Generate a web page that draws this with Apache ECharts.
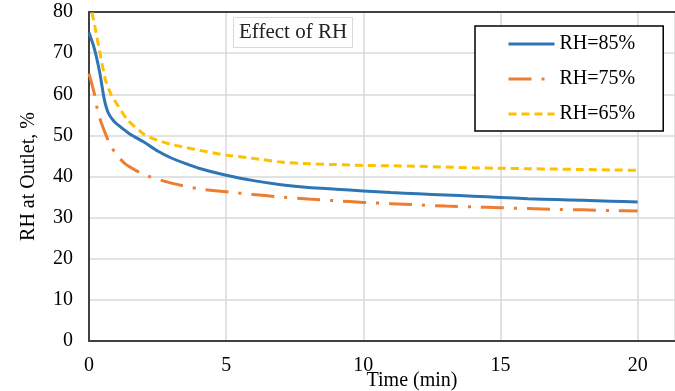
<!DOCTYPE html>
<html>
<head>
<meta charset="utf-8">
<script src="https://cdn.jsdelivr.net/npm/echarts@6/dist/echarts.min.js"></script>
<style>
  html, body { margin: 0; padding: 0; background: #fff; }
  #chart { width: 675px; height: 391px; }
</style>
</head>
<body>
<div id="chart"></div>
<script>
// Outlet relative humidity over time for three inlet RH levels
const seriesNames = ['RH=85%', 'RH=75%', 'RH=65%'];

const timeRH85 = [0, 0.2, 0.4, 0.55, 0.7, 0.9, 1.1, 1.5, 2, 2.5, 3, 3.5, 4, 5, 6, 7, 8, 9, 10, 11, 12, 13, 14, 15, 16, 17, 18, 19, 20];
const valRH85  = [75, 71, 65, 59, 55.5, 53.5, 52.3, 50.3, 48.4, 46.2, 44.5, 43.2, 42, 40.3, 39, 38, 37.3, 36.9, 36.5, 36.1, 35.8, 35.5, 35.2, 34.9, 34.6, 34.4, 34.2, 34.0, 33.8];

const timeRH75 = [0, 0.2, 0.3, 0.45, 0.75, 1, 1.3, 1.7, 2.1, 3, 4, 5, 6, 7, 8, 9, 10, 11, 12, 13, 14, 15, 16, 17, 18, 19, 20];
const valRH75  = [65, 60, 56.5, 53, 48, 45.3, 43.2, 41.5, 40.2, 38.4, 37.0, 36.3, 35.6, 35.0, 34.5, 34.1, 33.7, 33.4, 33.1, 32.8, 32.6, 32.4, 32.2, 32.0, 31.9, 31.7, 31.6];

const timeRH65 = [0, 0.2, 0.4, 0.6, 0.8, 1, 1.4, 2, 2.5, 3, 3.5, 4, 5, 6, 7, 8, 9, 10, 11, 12, 13, 14, 15, 16, 17, 18, 19, 20];
const valRH65  = [83, 77, 70, 63.5, 60, 57.8, 53.8, 50.3, 48.8, 47.8, 47.1, 46.4, 45.2, 44.4, 43.5, 43.1, 42.9, 42.7, 42.6, 42.5, 42.3, 42.1, 42.0, 41.9, 41.8, 41.7, 41.6, 41.5];

const xTicks = [0, 5, 10, 15, 20];
const yTicks = [0, 10, 20, 30, 40, 50, 60, 70, 80];

const pairs = (ts, vs) => ts.map((t, i) => [t, vs[i]]);

const FONT = '"Liberation Serif", "Times New Roman", serif';
const AXIS_DARK = '#404040';
const GRID_GREY = '#d9d9d9';

const chart = echarts.init(document.getElementById('chart'), null, { renderer: 'canvas' });

chart.setOption({
  animation: false,
  backgroundColor: '#fff',
  textStyle: { fontFamily: FONT, color: '#000' },
  title: {
    text: 'Effect of RH',
    left: 233,
    top: 17,
    padding: [5, 6, 5, 6],
    borderColor: GRID_GREY,
    borderWidth: 1,
    backgroundColor: '#fff',
    textStyle: { fontFamily: FONT, fontWeight: 'normal', fontSize: 21, color: '#222' }
  },
  legend: {
    data: seriesNames,
    orient: 'vertical',
    left: 475,
    top: 26,
    padding: [8, 28, 7, 32],
    itemGap: 15,
    itemWidth: 46,
    itemHeight: 20,
    itemStyle: { opacity: 0 },
    lineStyle: { width: 3 },
    borderColor: '#000',
    borderWidth: 1.5,
    backgroundColor: '#fff',
    textStyle: { fontFamily: FONT, fontSize: 20, color: '#000' }
  },
  grid: { left: 89, right: 0, top: 12, bottom: 50, containLabel: false, outerBoundsMode: 'none' },
  xAxis: [{
    type: 'value',
    min: xTicks[0],
    max: 21.36,
    interval: 5,
    name: 'Time (min)',
    nameLocation: 'middle',
    nameGap: 30,
    nameMoveOverlap: false,
    nameTextStyle: { fontFamily: FONT, fontSize: 20, color: '#000', padding: [0, 0, 0, 60] },
    axisLine: { show: true, lineStyle: { color: AXIS_DARK, width: 2 } },
    axisTick: { show: false },
    axisLabel: {
      fontFamily: FONT, fontSize: 20, color: '#000', margin: 15,
      showMaxLabel: false,
      formatter: v => (xTicks.includes(v) ? String(v) : '')
    },
    splitLine: { show: true, lineStyle: { color: GRID_GREY, width: 1.5 } }
  }, {
    type: 'value',
    position: 'top',
    min: 0,
    max: 1,
    axisLine: { show: true, onZero: false, lineStyle: { color: AXIS_DARK, width: 2 } },
    axisTick: { show: false },
    axisLabel: { show: false },
    splitLine: { show: false }
  }],
  yAxis: {
    type: 'value',
    min: yTicks[0],
    max: yTicks[yTicks.length - 1],
    interval: 10,
    name: 'RH at Outlet, %',
    nameLocation: 'middle',
    nameGap: 50,
    nameMoveOverlap: false,
    nameTextStyle: { fontFamily: FONT, fontSize: 20, color: '#000' },
    axisLine: { show: true, lineStyle: { color: AXIS_DARK, width: 2 } },
    axisTick: { show: false },
    axisLabel: { fontFamily: FONT, fontSize: 20, color: '#000', margin: 16 },
    splitLine: { show: true, lineStyle: { color: GRID_GREY, width: 1.5 } }
  },
  series: [{
    name: seriesNames[0],
    type: 'line',
    xAxisIndex: 0,
    data: pairs(timeRH85, valRH85),
    symbol: 'none',
    smooth: 0.2,
    clip: true,
    lineStyle: { color: '#2e75b6', width: 3, type: 'solid' },
    itemStyle: { color: '#2e75b6' },
    z: 3
  }, {
    name: seriesNames[1],
    type: 'line',
    xAxisIndex: 0,
    data: pairs(timeRH75, valRH75),
    symbol: 'none',
    smooth: 0.2,
    clip: true,
    lineStyle: { color: '#ed7d31', width: 3, type: [23, 10, 3, 10] },
    itemStyle: { color: '#ed7d31' },
    z: 2
  }, {
    name: seriesNames[2],
    type: 'line',
    xAxisIndex: 0,
    data: pairs(timeRH65, valRH65),
    symbol: 'none',
    smooth: 0.2,
    clip: true,
    lineStyle: { color: '#ffc000', width: 3, type: [8, 5] },
    itemStyle: { color: '#ffc000' },
    z: 2
  }]
});
</script>
</body>
</html>
